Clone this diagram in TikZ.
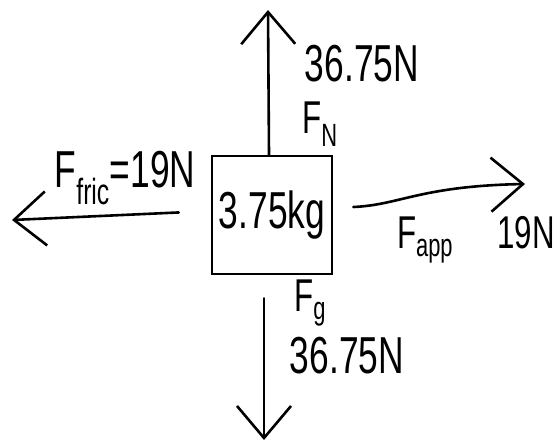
\documentclass[tikz,border=0pt]{standalone}
\usepackage{fontspec}
\setmainfont{Liberation Sans}
\usepackage{graphicx}
\usetikzlibrary{arrows.meta}
\newcommand{\hand}[1]{\scalebox{0.68}[1]{#1}}

\begin{document}
\begin{tikzpicture}[x=1pt, y=-1pt,
        force/.style={line width=2.6pt, line cap=round,
                      -{Straight Barb[length=32pt, width=54pt, line width=2.6pt]}},
        big/.style={font=\fontsize{52}{52}\selectfont, inner sep=0pt},
        small/.style={font=\fontsize{46}{46}\selectfont, inner sep=0pt},
        mass/.style={draw, line width=2.6pt, minimum width=120pt, minimum height=118pt, inner sep=0pt}
      ]
        \useasboundingbox (0,0) rectangle (556,444);
        \node[mass, big] (block) at (272,215) {\hand{3.75kg}};
        \coordinate (upTip) at (268,10);
        \coordinate (downTip) at (264,440);
        \coordinate (leftTip) at (12,220);
        \coordinate (rightTip) at (525,184);
        % labels
        \node[big] (fnVal) at (362,64) {\hand{36.75N}};
        \node[small] (fnName) at (320,124) {\hand{F\textsubscript{N}}};
        \node[big] (fricLabel) at (125,178) {\hand{F\textsubscript{fric}=19N}};
        \node[small] (appName) at (425,240) {\hand{F\textsubscript{app}}};
        \node[small] (appVal) at (526,233) {\hand{19N}};
        \node[small] (fgName) at (310,303) {\hand{F\textsubscript{g}}};
        \node[big] (fgVal) at (347,356) {\hand{36.75N}};
        % forces
        \draw[force] ([xshift=-3pt]block.north) -- (upTip);
        \draw[force, shorten <=23pt] ([xshift=-8pt]block.south) -- (downTip);
        \draw[force, shorten <=32pt] ([yshift=4pt]block.west) -- (leftTip);
        \draw[force] ([xshift=20pt, yshift=8pt]block.east) .. controls (400,205) and (420,186) .. (rightTip);
      \end{tikzpicture}
\end{document}
